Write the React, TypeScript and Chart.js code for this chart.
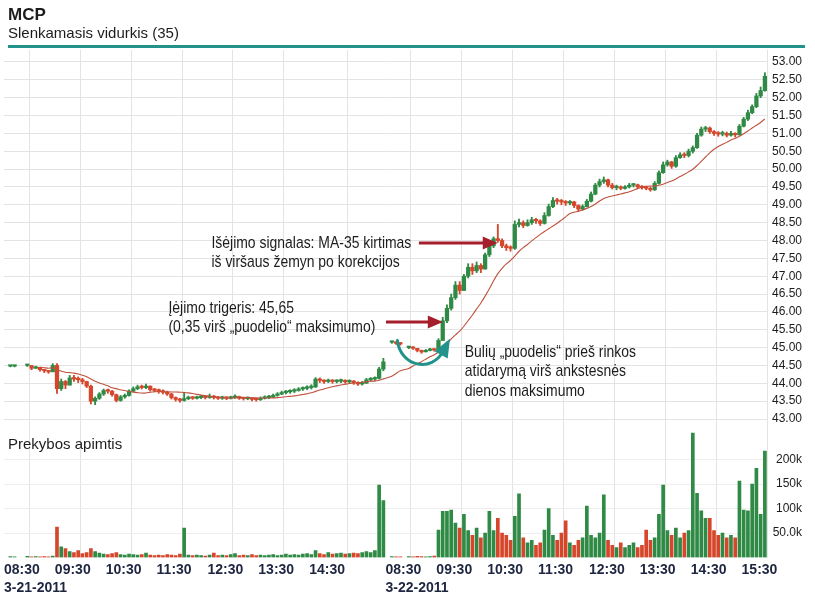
import React, { useEffect, useRef } from "react";
import { Chart, registerables } from "chart.js";

Chart.register(...registerables);

// ---------- texts ----------
const TITLE = "MCP";
const SUBTITLE = "Slenkamasis vidurkis (35)";
const VOLUME_TITLE = "Prekybos apimtis";

// ---------- axis ticks ----------
// minutes since 08:30 of 3-21-2011; each session is shown from 08:30 to 16:00 (450 minutes)
const timeTickMinutes = [0, 60, 120, 180, 240, 300, 360, 450, 510, 570, 630, 690, 750, 810, 870];
const timeTickLabels = ["08:30", "09:30", "10:30", "11:30", "12:30", "13:30", "14:30", "08:30", "09:30", "10:30", "11:30", "12:30", "13:30", "14:30", "15:30"];
const dateTickMinutes = [0, 450];
const dateTickLabels = ["3-21-2011", "3-22-2011"];
const priceTicks = [43.0, 43.5, 44.0, 44.5, 45.0, 45.5, 46.0, 46.5, 47.0, 47.5, 48.0, 48.5, 49.0, 49.5, 50.0, 50.5, 51.0, 51.5, 52.0, 52.5, 53.0];
const volumeTicks = [50000, 100000, 150000, 200000];
const volumeTickLabels = ["50.0k", "100k", "150k", "200k"];

const BAR_MINUTES = 5;
const MA_BARS = 14; // 35 periods of the original bars

// ---------- 5-minute bars (null = no trade) ----------
const closes = [
  // 3-21 pre-market
  null, 44.48, 44.48, null, null, 44.5, 44.42, 44.45, 44.38, 44.35, 44.32, 44.5,
  // 3-21 session
  43.85, 44.05, 43.95, 44.15, 44.12, 44.1, 44.05, 43.92, 43.5, 43.58,
  43.7, 43.8, 43.78, 43.68, 43.52, 43.62, 43.66, 43.78, 43.85, 43.9,
  43.88, 43.92, 43.82, 43.8, 43.78, 43.75, 43.7, 43.6, 43.55, 43.52,
  43.57, 43.6, 43.58, 43.6, 43.62, 43.6, 43.64, 43.6, 43.58, 43.6,
  43.58, 43.6, 43.63, 43.58, 43.57, 43.58, 43.55, 43.54, 43.58, 43.6,
  43.62, 43.66, 43.7, 43.74, 43.76, 43.78, 43.8, 43.84, 43.86, 43.88,
  43.9, 44.12, 44.08, 44.05, 44.08, 44.05, 44.06, 44.08, 44.04, 44.06,
  44.02, 43.98, 44.0, 44.1, 44.12, 44.14, 44.4, 44.6,
  // 3-22 pre-market
  null, 45.15, 45.12, 45.1, null, 45.0, 44.98, 44.92, 44.88, 44.92, 44.95, 44.93,
  // 3-22 session
  45.2, 45.75, 46.1, 46.4, 46.75, 46.6, 47.0, 47.25, 47.15, 47.3,
  47.2, 47.6, 47.85, 48.05, 48.0, 47.85, 47.8, 47.78, 48.45, 48.5,
  48.42, 48.5, 48.58, 48.55, 48.48, 48.7, 48.95, 49.12, 49.1, 49.08,
  49.05, 49.08, 48.98, 48.88, 48.95, 49.1, 49.3, 49.55, 49.65, 49.7,
  49.55, 49.48, 49.5, 49.46, 49.5, 49.55, 49.56, 49.5, 49.48, 49.46,
  49.42, 49.6, 49.9, 50.12, 50.2, 50.08, 50.32, 50.4, 50.38, 50.5,
  50.6, 50.95, 51.12, 51.15, 51.05, 51.0, 50.98, 51.0, 50.95, 51.0,
  50.96, 51.2, 51.4, 51.58, 51.75, 52.05, 52.2, 52.6,
];

const highs = [
  null, 44.5, 44.5, null, null, 44.53, 44.46, 44.48, 44.42, 44.38, 44.36, 44.55,
  44.55, 44.12, 44.08, 44.22, 44.22, 44.18, 44.14, 44.06, 43.95, 43.62,
  43.74, 43.84, 43.84, 43.8, 43.7, 43.66, 43.7, 43.82, 43.9, 43.95,
  43.95, 43.98, 43.93, 43.86, 43.84, 43.82, 43.78, 43.72, 43.62, 43.58,
  43.75, 43.64, 43.63, 43.64, 43.66, 43.66, 43.7, 43.66, 43.63, 43.64,
  43.62, 43.64, 43.68, 43.64, 43.61, 43.62, 43.6, 43.58, 43.62, 43.65,
  43.66, 43.7, 43.74, 43.78, 43.8, 43.82, 43.85, 43.88, 43.9, 43.93,
  43.96, 44.16, 44.15, 44.1, 44.12, 44.1, 44.1, 44.12, 44.1, 44.1,
  44.08, 44.04, 44.05, 44.14, 44.16, 44.18, 44.45, 44.7,
  null, 45.18, 45.16, 45.14, null, 45.04, 45.02, 44.97, 44.93, 44.95, 44.98, 44.97,
  45.25, 45.85, 46.2, 46.5, 46.85, 46.85, 47.05, 47.35, 47.35, 47.4,
  47.35, 47.65, 47.9, 48.1, 48.45, 48.05, 47.9, 47.85, 48.55, 48.6,
  48.55, 48.58, 48.65, 48.62, 48.58, 48.78, 49.02, 49.2, 49.18, 49.15,
  49.12, 49.12, 49.1, 49.0, 49.0, 49.15, 49.36, 49.6, 49.72, 49.78,
  49.72, 49.6, 49.55, 49.53, 49.54, 49.6, 49.6, 49.58, 49.54, 49.52,
  49.5, 49.65, 49.95, 50.2, 50.25, 50.22, 50.38, 50.46, 50.46, 50.56,
  50.65, 51.0, 51.18, 51.2, 51.18, 51.08, 51.05, 51.06, 51.04, 51.06,
  51.02, 51.25, 51.45, 51.65, 51.8, 52.12, 52.3, 52.7,
];

const lows = [
  null, 44.46, 44.46, null, null, 44.47, 44.38, 44.42, 44.34, 44.3, 44.28, 44.44,
  43.72, 43.8, 43.85, 43.95, 44.05, 44.02, 43.98, 43.88, 43.42, 43.4,
  43.55, 43.66, 43.72, 43.64, 43.48, 43.5, 43.58, 43.64, 43.76, 43.82,
  43.84, 43.85, 43.78, 43.76, 43.72, 43.7, 43.66, 43.56, 43.5, 43.47,
  43.5, 43.54, 43.55, 43.56, 43.57, 43.56, 43.58, 43.56, 43.55, 43.55,
  43.54, 43.56, 43.58, 43.55, 43.53, 43.54, 43.51, 43.5, 43.52, 43.56,
  43.57, 43.6, 43.64, 43.68, 43.7, 43.72, 43.74, 43.78, 43.8, 43.82,
  43.84, 43.88, 44.02, 44.0, 44.02, 44.0, 44.01, 44.02, 44.0, 44.0,
  43.97, 43.94, 43.95, 44.0, 44.06, 44.08, 44.12, 44.35,
  null, 45.12, 45.09, 45.07, null, 44.97, 44.95, 44.88, 44.84, 44.88, 44.91, 44.9,
  44.9, 45.2, 45.7, 46.05, 46.35, 46.5, 46.6, 46.95, 47.05, 47.1,
  47.1, 47.2, 47.55, 47.8, 47.95, 47.8, 47.72, 47.7, 47.75, 48.38,
  48.36, 48.4, 48.45, 48.48, 48.42, 48.46, 48.68, 48.92, 49.02, 49.0,
  48.98, 49.0, 48.92, 48.82, 48.85, 48.94, 49.08, 49.28, 49.5, 49.6,
  49.5, 49.44, 49.42, 49.42, 49.44, 49.47, 49.5, 49.46, 49.44, 49.42,
  49.38, 49.4, 49.58, 49.88, 50.08, 50.02, 50.05, 50.3, 50.32, 50.34,
  50.45, 50.58, 50.92, 51.05, 51.0, 50.94, 50.92, 50.93, 50.9, 50.92,
  50.9, 50.95, 51.18, 51.36, 51.55, 51.72, 52.0, 52.18,
];

const volumes = [
  0, 2000, 1500, 0, 0, 2500, 1500, 2000, 1500, 1800, 1500, 3000,
  62000, 22000, 18000, 12000, 10000, 14000, 8000, 10000, 18000, 12000,
  9000, 7000, 6000, 8000, 10000, 6000, 5000, 7000, 6000, 5000,
  6000, 9000, 5000, 4000, 5000, 4000, 6000, 5000, 4000, 7000,
  60000, 5000, 4000, 5000, 4000, 3000, 5000, 9000, 4000, 5000,
  4000, 6000, 8000, 4000, 5000, 4000, 6000, 4000, 5000, 4000,
  5000, 6000, 4000, 5000, 7000, 5000, 6000, 5000, 7000, 8000,
  6000, 14000, 8000, 6000, 10000, 7000, 8000, 9000, 7000, 8000,
  9000, 8000, 10000, 12000, 10000, 14000, 148000, 116000,
  0, 2000, 1500, 1500, 0, 2000, 1500, 2500, 2000, 1500, 2000, 3000,
  56000, 94000, 94000, 97000, 70000, 60000, 88000, 55000, 45000, 60000,
  40000, 50000, 94000, 55000, 80000, 50000, 45000, 35000, 84000, 130000,
  40000, 30000, 35000, 25000, 30000, 56000, 100000, 45000, 35000, 50000,
  75000, 30000, 25000, 35000, 40000, 105000, 45000, 40000, 50000, 128000,
  35000, 25000, 20000, 30000, 20000, 25000, 30000, 20000, 25000, 56000,
  35000, 40000, 88000, 148000, 55000, 45000, 60000, 40000, 50000, 55000,
  254000, 131000, 95000, 80000, 80000, 55000, 45000, 50000, 40000, 45000,
  40000, 156000, 97000, 95000, 150000, 182000, 88000, 217000,
];

// ---------- annotations (anchored in axis units: minutes, price) ----------
const exitNote = { lines: ["Išėjimo signalas: MA-35 kirtimas", "iš viršaus žemyn po korekcijos"], t: 244.7, p: 47.79 };
const entryNote = { lines: ["Įėjimo trigeris: 45,65", "(0,35 virš „puodelio“ maksimumo)"], t: 194, p: 45.97 };
const cupNote = { lines: ["Bulių „puodelis“ prieš rinkos", "atidarymą virš ankstesnės", "dienos maksimumo"], t: 543.5, p: 44.74 };
const exitArrow = { t0: 489.4, t1: 582.4, p: 47.93 };
const entryArrow = { t0: 450.6, t1: 517.6, p: 45.72 };
const cupArrow = { t0: 464, p0: 45.2, t1: 468, p1: 44.45, t2: 505, p2: 44.3, t3: 518, p3: 44.9, tt: 526, pt: 45.25 };

// ---------- styles ----------
const UP = "#2f8a45";
const DOWN = "#d6462b";
const MA_COLOR = "#c0503c";
const ARROW_RED = "#a51e2b";
const TEAL = "#21938a";
const TEXT = "#1c1c1c";
const AXIS_TEXT = "#1e2540";
const GRID = "#e3e3e3";

function hasFont(name: string): boolean {
  const c = document.createElement("canvas").getContext("2d");
  if (!c) return false;
  const s = "abcdefghijklmnopqrstuvwxyz0123456789";
  c.font = "20px monospace";
  const w0 = c.measureText(s).width;
  c.font = `20px "${name}", monospace`;
  const w1 = c.measureText(s).width;
  return Math.abs(w0 - w1) > 0.5;
}

export default function App() {
  const ref = useRef<HTMLCanvasElement | null>(null);

  useEffect(() => {
    if (!ref.current) return;
    const narrowOk = hasFont("Liberation Sans Narrow");
    const narrowFamily = narrowOk ? '"Liberation Sans Narrow", "Arial Narrow", sans-serif' : '"Liberation Sans", Arial, sans-serif';
    const narrowScale = narrowOk ? 1 : 0.82;
    const regular = '"Liberation Sans", Arial, sans-serif';

    // build bars
    const wickData: any[] = [];
    const bodyData: any[] = [];
    const barColors: string[] = [];
    const volData: any[] = [];
    const volColors: string[] = [];
    const maData: any[] = [];
    const win: number[] = [];
    for (let i = 0; i < closes.length; i++) {
      const c = closes[i];
      const t = i * BAR_MINUTES + BAR_MINUTES / 2;
      if (c === null) continue;
      const prev = i > 0 ? closes[i - 1] : null;
      const o = prev === null ? c : prev;
      const col = c >= o ? UP : DOWN;
      wickData.push({ x: t, y: [lows[i], highs[i]] });
      bodyData.push({ x: t, y: [o, c] });
      barColors.push(col);
      if (volumes[i] > 0) {
        volData.push({ x: t, y: volumes[i] });
        volColors.push(col);
      }
      win.push(c);
      if (win.length > MA_BARS) win.shift();
      if (win.length >= 6) {
        const avg = win.reduce((a, b) => a + b, 0) / win.length;
        maData.push({ x: t, y: avg });
      }
    }

    const drawLines = (ctx: CanvasRenderingContext2D, lines: string[], x: number, y: number, size: number, lh: number) => {
      ctx.font = `${size}px ${narrowFamily}`;
      lines.forEach((line, k) => {
        ctx.save();
        ctx.translate(x, y + k * lh);
        ctx.scale(narrowScale, 1);
        ctx.fillText(line, 0, 0);
        ctx.restore();
      });
    };

    const arrow = (ctx: CanvasRenderingContext2D, x0: number, x1: number, y: number) => {
      ctx.strokeStyle = ARROW_RED;
      ctx.fillStyle = ARROW_RED;
      ctx.lineWidth = 3;
      ctx.beginPath();
      ctx.moveTo(x0, y);
      ctx.lineTo(x1 - 12, y);
      ctx.stroke();
      ctx.beginPath();
      ctx.moveTo(x1, y);
      ctx.lineTo(x1 - 15, y - 6.5);
      ctx.lineTo(x1 - 15, y + 6.5);
      ctx.closePath();
      ctx.fill();
    };

    const overlay = {
      id: "overlay",
      afterDraw(chart: any) {
        const ctx: CanvasRenderingContext2D = chart.ctx;
        const xs = chart.scales.x;
        const ys = chart.scales.y;
        const yv = chart.scales.yv;
        const X = (t: number) => xs.getPixelForValue(t);
        const Y = (p: number) => ys.getPixelForValue(p);
        ctx.save();
        ctx.textAlign = "left";
        ctx.textBaseline = "alphabetic";
        // header
        ctx.fillStyle = TEXT;
        ctx.font = `bold 17px ${regular}`;
        ctx.fillText(TITLE, 8, 20);
        ctx.font = `15px ${regular}`;
        ctx.fillText(SUBTITLE, 8, 38);
        ctx.fillStyle = TEAL;
        ctx.fillRect(8, 45, 797, 3);
        // volume caption
        ctx.fillStyle = TEXT;
        ctx.font = `15px ${regular}`;
        ctx.fillText(VOLUME_TITLE, 8, yv.top + 21);
        // notes
        ctx.fillStyle = TEXT;
        drawLines(ctx, exitNote.lines, X(exitNote.t), Y(exitNote.p), 17, 19.5);
        drawLines(ctx, entryNote.lines, X(entryNote.t), Y(entryNote.p), 17, 19.5);
        drawLines(ctx, cupNote.lines, X(cupNote.t), Y(cupNote.p), 17, 19.5);
        // red arrows
        arrow(ctx, X(exitArrow.t0), X(exitArrow.t1), Y(exitArrow.p));
        arrow(ctx, X(entryArrow.t0), X(entryArrow.t1), Y(entryArrow.p));
        // teal curved arrow
        const a = cupArrow;
        ctx.strokeStyle = TEAL;
        ctx.fillStyle = TEAL;
        ctx.lineWidth = 3;
        ctx.lineCap = "round";
        ctx.beginPath();
        ctx.moveTo(X(a.t0), Y(a.p0));
        ctx.bezierCurveTo(X(a.t1), Y(a.p1), X(a.t2), Y(a.p2), X(a.t3), Y(a.p3));
        ctx.stroke();
        const ex = X(a.t3), ey = Y(a.p3), tx = X(a.tt), ty = Y(a.pt);
        const dx = tx - ex, dy = ty - ey;
        const len = Math.hypot(dx, dy) || 1;
        const nx = -dy / len, ny = dx / len;
        ctx.beginPath();
        ctx.moveTo(tx, ty);
        ctx.lineTo(ex - dx * 0.3 + nx * 7.5, ey - dy * 0.3 + ny * 7.5);
        ctx.lineTo(ex - dx * 0.3 - nx * 7.5, ey - dy * 0.3 - ny * 7.5);
        ctx.closePath();
        ctx.fill();
        ctx.restore();
      },
    };

    const tickFontSize = narrowOk ? 14 : 12;
    const timeFontSize = narrowOk ? 16 : 14;
    const timeFamily = narrowOk ? narrowFamily : regular;

    const chart = new Chart(ref.current, {
      type: "bar",
      data: {
        datasets: [
          {
            type: "line",
            label: "MA",
            data: maData,
            yAxisID: "y",
            borderColor: MA_COLOR,
            borderWidth: 1.1,
            pointRadius: 0,
            tension: 0.2,
            order: 0,
          } as any,
          {
            label: "body",
            data: bodyData,
            yAxisID: "y",
            backgroundColor: barColors,
            borderWidth: 0,
            barThickness: 3.6,
            minBarLength: 1.5,
            grouped: false,
            order: 1,
          } as any,
          {
            label: "wick",
            data: wickData,
            yAxisID: "y",
            backgroundColor: barColors,
            borderWidth: 0,
            barThickness: 1.2,
            grouped: false,
            order: 2,
          } as any,
          {
            label: "volume",
            data: volData,
            yAxisID: "yv",
            backgroundColor: volColors,
            borderWidth: 0,
            barThickness: 3,
            grouped: false,
            order: 3,
          } as any,
        ],
      },
      options: {
        responsive: false,
        animation: false,
        layout: { padding: { top: 50, left: 2, right: 13, bottom: 0 } },
        plugins: { legend: { display: false }, tooltip: { enabled: false } },
        scales: {
          x: {
            type: "linear",
            min: 0,
            max: 900,
            offset: false,
            border: { display: false },
            grid: { color: GRID, drawTicks: false },
            afterBuildTicks: (s: any) => {
              s.ticks = timeTickMinutes.map((v) => ({ value: v }));
            },
            afterFit: (s: any) => {
              s.height = 45.5;
            },
            ticks: {
              autoSkip: false,
              maxRotation: 0,
              minRotation: 0,
              align: "start",
              padding: 4,
              color: AXIS_TEXT,
              font: { family: timeFamily, size: timeFontSize, weight: "bold", lineHeight: 1.25 },
              callback: (v: any) => {
                const k = timeTickMinutes.indexOf(Number(v));
                const d = dateTickMinutes.indexOf(Number(v));
                const lbl = k >= 0 ? timeTickLabels[k] : "";
                return d >= 0 ? [lbl, dateTickLabels[d]] : lbl;
              },
            },
          },
          y: {
            type: "linear",
            position: "right",
            stack: "panes",
            stackWeight: 378,
            min: 42.748,
            max: 53.336,
            border: { display: false },
            grid: { color: GRID, drawTicks: false },
            afterBuildTicks: (s: any) => {
              s.ticks = priceTicks.map((v) => ({ value: v }));
            },
            afterFit: (s: any) => {
              s.width = 35;
            },
            ticks: {
              autoSkip: false,
              padding: 2,
              crossAlign: "far",
              color: TEXT,
              font: { family: narrowOk ? narrowFamily : regular, size: tickFontSize },
              callback: (v: any) => Number(v).toFixed(2),
            },
          },
          yv: {
            type: "linear",
            position: "right",
            stack: "panes",
            stackWeight: 129.5,
            min: 0,
            max: 264300,
            border: { display: false },
            grid: { color: "#eeeeee", drawTicks: false },
            afterBuildTicks: (s: any) => {
              s.ticks = volumeTicks.map((v) => ({ value: v }));
            },
            afterFit: (s: any) => {
              s.width = 35;
            },
            ticks: {
              autoSkip: false,
              padding: 2,
              crossAlign: "far",
              color: TEXT,
              font: { family: narrowOk ? narrowFamily : regular, size: tickFontSize },
              callback: (v: any, i: number) => volumeTickLabels[i] ?? "",
            },
          },
        },
      } as any,
      plugins: [overlay],
    });
    return () => chart.destroy();
  }, []);

  return (
    <div style={{ position: "absolute", left: 0, top: 0, width: 815, height: 603, background: "#fff" }}>
      <canvas ref={ref} width={815} height={603} style={{ display: "block", width: 815, height: 603 }} />
    </div>
  );
}
